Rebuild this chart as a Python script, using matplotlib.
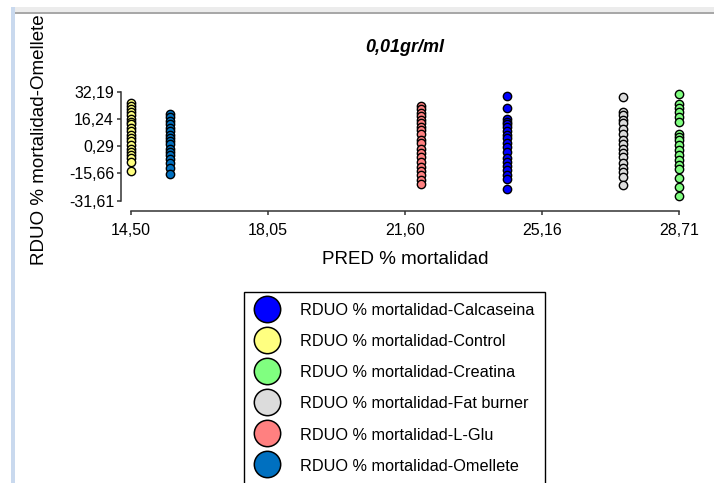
from matplotlib import pyplot as plt
from matplotlib.lines import Line2D
from matplotlib.patches import Rectangle

groups = ['Calcaseina', 'Control', 'Creatina', 'Fat burner', 'L-Glu', 'Omellete']
colors = ['#0000ff', '#ffff80', '#80ff80', '#dcdcdc', '#ff8080', '#0070c0']
pred = [24.24, 14.50, 28.71, 27.27, 22.02, 15.51]

calcaseina = [29.6, 22.9, 16.5, 14.5, 13.2, 11.6, 9.2, 6.7, 4.8, 1.9, -0.1, -3.0, -6.9,
              -8.9, -11.4, -13.8, -16.7, -19.0, -24.9]
control = [25.5, 24.0, 22.2, 20.6, 18.4, 16.5, 14.5, 13.0, 11.0, 9.1, 6.7, 4.8, 3.2, 0.9,
           -1.5, -3.0, -5.0, -6.9, -9.2, -14.3]
creatina = [30.7, 24.9, 22.9, 20.4, 17.4, 14.5, 7.7, 5.4, 3.8, 0.9, -2.0, -5.0, -7.9,
            -10.8, -13.3, -18.6, -23.5, -29.0]
fat_burner = [29.1, 20.4, 18.4, 15.9, 13.6, 10.1, 7.3, 4.2, 1.5, -1.1, -3.6, -6.3, -9.5,
              -12.2, -14.7, -17.7, -22.5]
l_glu = [23.7, 21.8, 19.8, 17.9, 15.9, 13.9, 11.6, 9.7, 7.3, 4.2, 1.9, -1.1, -3.6, -6.3,
         -8.9, -11.8, -14.2, -16.7, -19.6, -22.1]
omellete = [19.4, 17.1, 14.9, 13.0, 11.0, 9.1, 7.1, 5.1, 3.2, 1.3, -1.1, -3.0, -5.0, -7.3,
            -9.8, -12.4, -15.7]
rduo = [calcaseina, control, creatina, fat_burner, l_glu, omellete]

x_ticks = [14.50, 18.05, 21.60, 25.16, 28.71]
y_ticks = [-31.61, -15.66, 0.29, 16.24, 32.19]

W, H = 714, 483

def fmt(v):
    return f'{v:.2f}'.replace('.', ',')

def window_frame(fig):
    # light window chrome along the top and left edge
    fig.patches.append(Rectangle((11 / W, 1 - 12 / H), 1, 5 / H, transform=fig.transFigure,
                                 facecolor='#ececec', edgecolor='none'))
    fig.patches.append(Rectangle((11 / W, 1 - 14 / H), 1, 2 / H, transform=fig.transFigure,
                                 facecolor='#a8a8a8', edgecolor='none'))
    fig.patches.append(Rectangle((11 / W, 0), 4 / W, 1 - 7 / H, transform=fig.transFigure,
                                 facecolor='#c9d9ee', edgecolor='none'))

def main():
    plt.rcParams['font.family'] = ['Liberation Sans', 'DejaVu Sans']
    fig = plt.figure(figsize=(W / 100, H / 100), dpi=100)
    window_frame(fig)

    ax = fig.add_axes([131 / W, 1 - 200.7 / H, 548 / W, 109 / H])
    for name, color, x, ys in zip(groups, colors, pred, rduo):
        ax.scatter([x] * len(ys), ys, s=36, c=color, edgecolors='black', linewidths=1.0,
                   clip_on=False, zorder=3)

    ax.set_xlim(x_ticks[0], x_ticks[-1])
    ax.set_ylim(y_ticks[0], y_ticks[-1])
    ax.set_xticks(x_ticks)
    ax.set_xticklabels([fmt(v) for v in x_ticks])
    ax.set_yticks(y_ticks)
    ax.set_yticklabels([fmt(v) for v in y_ticks])
    ax.tick_params(direction='out', length=3, width=1.1, labelsize=11.5, pad=2, color='#333333')
    ax.tick_params(axis='x', pad=6)
    for side in ['top', 'right']:
        ax.spines[side].set_visible(False)
    for side in ['left', 'bottom']:
        ax.spines[side].set_position(('outward', 7.2))
        ax.spines[side].set_linewidth(1.1)
        ax.spines[side].set_color('#333333')
    ax.spines['left'].set_bounds(y_ticks[0], y_ticks[-1])
    ax.spines['bottom'].set_bounds(x_ticks[0], x_ticks[-1])
    ax.patch.set_alpha(0)

    fig.text(405 / W, 1 - 48 / H, '0,01gr/ml', ha='center', va='center', fontsize=13,
             fontweight='bold', fontstyle='italic')
    fig.text(405 / W, 1 - 259 / H, 'PRED % mortalidad', ha='center', va='center', fontsize=13.5)
    fig.text(40 / W, 1 - 140 / H, 'RDUO % mortalidad-Omellete', ha='center', va='center',
             rotation=90, fontsize=13.5)

    handles = [Line2D([], [], linestyle='none', marker='o', markersize=19,
                      markerfacecolor=c, markeredgecolor='black', markeredgewidth=1.1)
               for c in colors]
    labels = ['RDUO % mortalidad-' + g for g in groups]
    leg = fig.legend(handles, labels, loc='upper left', bbox_to_anchor=(244 / W, 1 - 291.7 / H),
                     bbox_transform=fig.transFigure, borderaxespad=0, fontsize=11.7,
                     fancybox=False, framealpha=1, edgecolor='black', numpoints=1,
                     borderpad=0.65, handlelength=1.5, handletextpad=1.3, labelspacing=0.94,
                     handleheight=1.0)
    leg.get_frame().set_linewidth(1.0)

    plt.savefig('out.png', dpi=100)

if __name__ == '__main__':
    main()
